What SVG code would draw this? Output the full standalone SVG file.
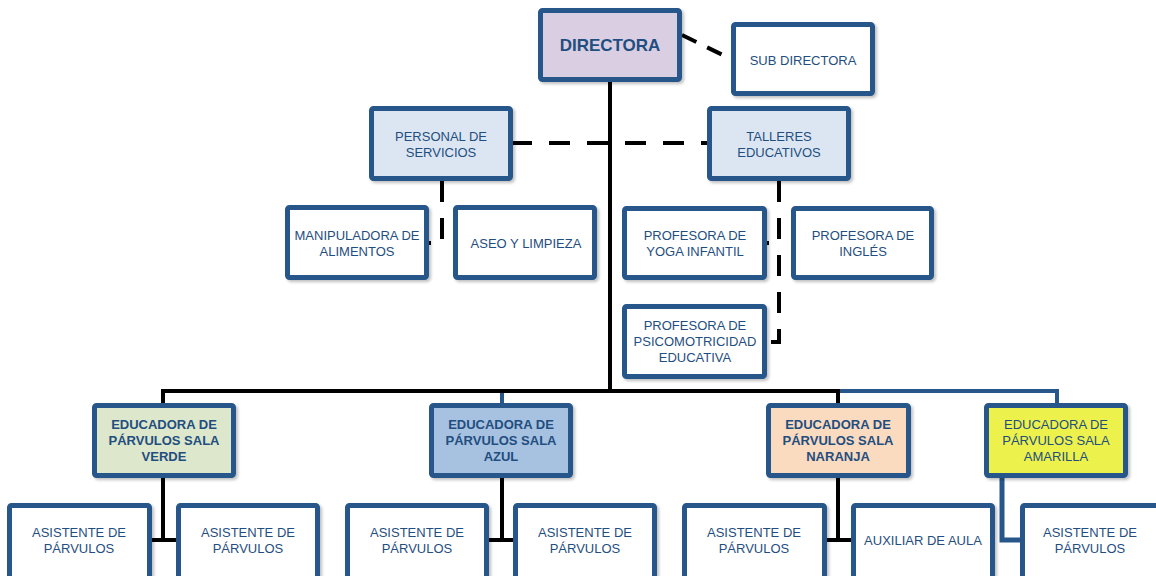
<svg xmlns="http://www.w3.org/2000/svg" width="1156" height="576" viewBox="0 0 1156 576">
<defs>
<filter id="sh" x="-10%" y="-10%" width="130%" height="130%">
<feDropShadow dx="2" dy="2" stdDeviation="1.5" flood-color="#000" flood-opacity="0.25"/>
</filter>
<style>
.box{stroke:#27578A;stroke-width:5;fill:#fff;filter:url(#sh)}
.t{font-family:"Liberation Sans",Arial,sans-serif;font-size:13px;fill:#1F4E7F;text-anchor:middle}
.b{font-weight:bold}
.solid{stroke:#000;stroke-width:4;fill:none}
.blue{stroke:#27578A;stroke-width:4;fill:none}
.dash{stroke:#000;stroke-width:4;fill:none;stroke-dasharray:21 16}
</style>
</defs>
<rect width="1156" height="576" fill="#fff"/>
<g id="connectors">
<path class="dash" d="M682 35 L735 61" style="stroke-dasharray:16 12"/>
<path class="dash" d="M511 143 L709 143" style="stroke-dasharray:21 17"/>
<path class="dash" d="M442 181 V243"/>
<path class="dash" d="M427 243 H457" style="stroke-dasharray:4 22"/>
<path class="dash" d="M779 181 V342 H765"/>
<path class="dash" d="M765 243 H795" style="stroke-dasharray:4 22"/>
<path class="solid" d="M610 80 V391"/>
<path class="blue" d="M838 391 H1057 V407"/>
<path class="blue" d="M502 391 V407"/>
<path class="solid" d="M163 407 V391 H838 V407"/>
<path class="solid" d="M163 476 V540 M150 540 H180"/>
<path class="solid" d="M502 476 V540 M487 540 H517"/>
<path class="solid" d="M838 476 V540 M825 540 H855"/>
<path class="blue" d="M1002 476 V540 H1024" style="stroke-width:5"/>
</g>
<g id="directora"><rect class="box" x="540.5" y="10.5" width="139" height="69" rx="2" fill="#D9CEE2" style="fill:#D9CEE2"/><text class="t b" x="610" y="51" style="font-size:17px">DIRECTORA</text></g>
<g id="subdirectora"><rect class="box" x="733.5" y="24.5" width="139" height="69" rx="2"/><text class="t" x="803" y="64.5">SUB DIRECTORA</text></g>
<g id="personal"><rect class="box" x="371.5" y="108.5" width="139" height="70" rx="2" style="fill:#DCE6F2"/><text class="t" x="441" y="140.5">PERSONAL DE</text><text class="t" x="441" y="156.5">SERVICIOS</text></g>
<g id="talleres"><rect class="box" x="709.5" y="108.5" width="139" height="70" rx="2" style="fill:#DCE6F2"/><text class="t" x="779" y="140.5">TALLERES</text><text class="t" x="779" y="156.5">EDUCATIVOS</text></g>
<g id="manipuladora"><rect class="box" x="287.5" y="207.5" width="139" height="70" rx="2"/><text class="t" x="357" y="239.5">MANIPULADORA DE</text><text class="t" x="357" y="255.5">ALIMENTOS</text></g>
<g id="aseo"><rect class="box" x="455.5" y="207.5" width="139" height="70" rx="2"/><text class="t" x="526" y="247.5">ASEO Y LIMPIEZA</text></g>
<g id="yoga"><rect class="box" x="624.5" y="208.5" width="140" height="69" rx="2"/><text class="t" x="695" y="239.5">PROFESORA DE</text><text class="t" x="695" y="255.5">YOGA INFANTIL</text></g>
<g id="ingles"><rect class="box" x="793.5" y="208.5" width="138" height="69" rx="2"/><text class="t" x="863" y="239.5">PROFESORA DE</text><text class="t" x="863" y="255.5">INGLÉS</text></g>
<g id="psico"><rect class="box" x="624.5" y="306.5" width="140" height="70" rx="2"/><text class="t" x="695" y="329.5">PROFESORA DE</text><text class="t" x="695" y="345.5">PSICOMOTRICIDAD</text><text class="t" x="695" y="361.5">EDUCATIVA</text></g>
<g id="verde"><rect class="box" x="94.5" y="405.5" width="139" height="70" rx="2" style="fill:#DDE7CB"/><text class="t b" x="164" y="428.5">EDUCADORA DE</text><text class="t b" x="164" y="444.5">PÁRVULOS SALA</text><text class="t b" x="164" y="460.5">VERDE</text></g>
<g id="azul"><rect class="box" x="431.5" y="405.5" width="139" height="70" rx="2" style="fill:#A7C1E0"/><text class="t b" x="501" y="428.5">EDUCADORA DE</text><text class="t b" x="501" y="444.5">PÁRVULOS SALA</text><text class="t b" x="501" y="460.5">AZUL</text></g>
<g id="naranja"><rect class="box" x="768.5" y="405.5" width="140" height="70" rx="2" style="fill:#FBDBC0"/><text class="t b" x="838" y="428.5">EDUCADORA DE</text><text class="t b" x="838" y="444.5">PÁRVULOS SALA</text><text class="t b" x="838" y="460.5">NARANJA</text></g>
<g id="amarilla"><rect class="box" x="986.5" y="405.5" width="139" height="70" rx="2" style="fill:#ECF24B"/><text class="t" x="1056" y="428.5">EDUCADORA DE</text><text class="t" x="1056" y="444.5">PÁRVULOS SALA</text><text class="t" x="1056" y="460.5">AMARILLA</text></g>
<g id="verde1"><rect class="box" x="9.5" y="505.5" width="140" height="80" rx="2"/><text class="t" x="79" y="536.5">ASISTENTE DE</text><text class="t" x="79" y="552.5">PÁRVULOS</text></g>
<g id="verde2"><rect class="box" x="178.5" y="505.5" width="139" height="80" rx="2"/><text class="t" x="248" y="536.5">ASISTENTE DE</text><text class="t" x="248" y="552.5">PÁRVULOS</text></g>
<g id="azul1"><rect class="box" x="347.5" y="505.5" width="139" height="80" rx="2"/><text class="t" x="417" y="536.5">ASISTENTE DE</text><text class="t" x="417" y="552.5">PÁRVULOS</text></g>
<g id="azul2"><rect class="box" x="515.5" y="505.5" width="139" height="80" rx="2"/><text class="t" x="585" y="536.5">ASISTENTE DE</text><text class="t" x="585" y="552.5">PÁRVULOS</text></g>
<g id="naranja1"><rect class="box" x="684.5" y="505.5" width="140" height="80" rx="2"/><text class="t" x="754" y="536.5">ASISTENTE DE</text><text class="t" x="754" y="552.5">PÁRVULOS</text></g>
<g id="naranja2"><rect class="box" x="853.5" y="505.5" width="139" height="80" rx="2"/><text class="t" x="923" y="544.5">AUXILIAR DE AULA</text></g>
<g id="amarilla1"><rect class="box" x="1022.5" y="505.5" width="139" height="80" rx="2"/><text class="t" x="1090" y="536.5">ASISTENTE DE</text><text class="t" x="1090" y="552.5">PÁRVULOS</text></g>
</svg>
